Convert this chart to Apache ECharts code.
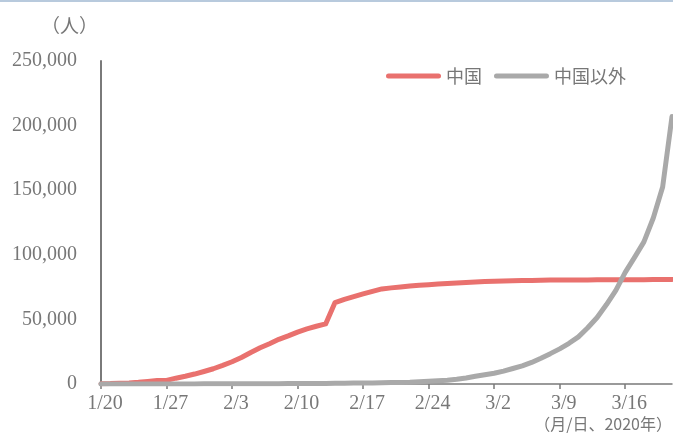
<!DOCTYPE html>
<html>
<head>
<meta charset="utf-8">
<script src="https://cdn.jsdelivr.net/npm/echarts@6/dist/echarts.min.js"></script>
<style>
  html, body { margin: 0; padding: 0; background: #fff; }
  #chart { width: 673px; height: 434px; }
</style>
</head>
<body>
<div id="chart"></div>
<script>
// Dates (month/day, 2020)
const dates = [
  '1/20','1/21','1/22','1/23','1/24','1/25','1/26','1/27','1/28','1/29','1/30','1/31',
  '2/1','2/2','2/3','2/4','2/5','2/6','2/7','2/8','2/9','2/10','2/11','2/12','2/13','2/14',
  '2/15','2/16','2/17','2/18','2/19','2/20','2/21','2/22','2/23','2/24','2/25','2/26','2/27','2/28','2/29',
  '3/1','3/2','3/3','3/4','3/5','3/6','3/7','3/8','3/9','3/10','3/11','3/12','3/13','3/14',
  '3/15','3/16','3/17','3/18','3/19','3/20','3/21'
];

// Cumulative confirmed cases in China
const chinaCases = [
  280, 310, 570, 830, 1300, 1990, 2740, 2800, 4500, 6000, 7700, 9700,
  11800, 14400, 17200, 20500, 24400, 28000, 31200, 34600, 37300, 40200, 42700, 44700, 46500, 63000,
  65500, 67600, 69700, 71700, 73600, 74400, 75100, 75900, 76500, 76900, 77400, 77800, 78200, 78600, 78900,
  79300, 79600, 79800, 80000, 80100, 80200, 80300, 80400, 80400, 80500, 80500, 80500, 80600, 80600,
  80600, 80700, 80700, 80700, 80800, 80800, 80900
];

// Cumulative confirmed cases outside China
const outsideCases = [
  0, 4, 6, 7, 9, 23, 29, 37, 56, 68, 82, 106,
  132, 146, 153, 159, 191, 216, 270, 288, 307, 319, 395, 441, 447, 505,
  526, 683, 794, 804, 924, 1073, 1200, 1402, 1769, 2069, 2459, 2918, 3664, 4691, 6009,
  7200, 8300, 10000, 12000, 14000, 16700, 20000, 23500, 27200, 31500, 36500, 43500, 51500, 61500,
  72500, 86400, 98000, 110000, 128500, 152500, 207000
];

const seriesNames = ['中国', '中国以外'];
const yUnit = '（人）';
const xUnit = '（月/日、2020年）';

const serif = '"Liberation Serif", "DejaVu Serif", serif';
const cjk = '"Noto Sans CJK JP", "Noto Sans", sans-serif';
const labelColor = '#777777';
const axisColor = '#7a7a7a';
const legendIcon = 'path://M2.5,0H52.5A2.5,2.5,0,0,1,52.5,5H2.5A2.5,2.5,0,0,1,2.5,0Z';

const chart = echarts.init(document.getElementById('chart'), null, { renderer: 'canvas' });

chart.setOption({
  animation: false,
  backgroundColor: '#ffffff',
  grid: { left: 101, right: 1, top: 61, bottom: 50, containLabel: false },
  legend: {
    top: 62,
    left: 381,
    itemWidth: 55,
    itemHeight: 5,
    itemGap: 12,
    icon: legendIcon,
    textStyle: { color: labelColor, fontFamily: cjk, fontSize: 18 },
    data: seriesNames
  },
  xAxis: {
    type: 'category',
    data: dates,
    boundaryGap: false,
    axisLine: { show: true, lineStyle: { color: axisColor, width: 1.5 } },
    axisTick: { show: true, interval: 6, length: 5, lineStyle: { color: axisColor, width: 1.5 } },
    axisLabel: {
      interval: 6,
      color: labelColor,
      fontFamily: serif,
      fontSize: 20,
      margin: 10,
      padding: [0, 0, 0, 8]
    },
    splitLine: { show: false }
  },
  yAxis: {
    type: 'value',
    min: 0,
    max: 250000,
    interval: 50000,
    axisLine: { show: true, lineStyle: { color: axisColor, width: 2 } },
    axisTick: { show: false },
    splitLine: { show: false },
    axisLabel: {
      color: labelColor,
      fontFamily: serif,
      fontSize: 20,
      margin: 24,
      formatter: v => v.toLocaleString('en-US')
    }
  },
  graphic: [
    { type: 'rect', shape: { x: 0, y: 0, width: 673, height: 2 }, style: { fill: '#b8cadd' } },
    { type: 'text', left: 41, top: 16, style: { text: yUnit, fill: labelColor, font: '19px ' + cjk } },
    { type: 'text', right: 1, top: 416, style: { text: xUnit, fill: labelColor, font: '16px ' + cjk } }
  ],
  series: [
    {
      name: seriesNames[0],
      type: 'line',
      data: chinaCases,
      symbol: 'none',
      z: 3,
      lineStyle: { color: '#e9716e', width: 5, cap: 'round', join: 'round' },
      itemStyle: { color: '#e9716e' }
    },
    {
      name: seriesNames[1],
      type: 'line',
      data: outsideCases,
      symbol: 'none',
      z: 4,
      lineStyle: { color: '#a9a9a9', width: 5, cap: 'round', join: 'round' },
      itemStyle: { color: '#a9a9a9' }
    }
  ]
});
</script>
</body>
</html>
